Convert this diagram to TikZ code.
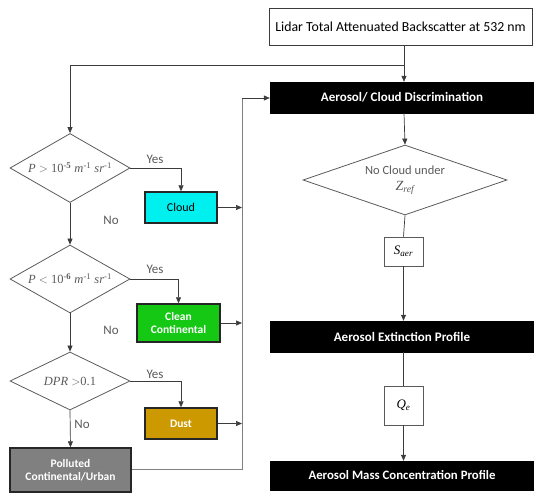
\documentclass[tikz,border=0pt]{standalone}
\usepackage{fontspec}
\setmainfont{Carlito}
\newfontfamily\tnr{Liberation Serif}
\usetikzlibrary{arrows.meta,shapes.geometric}
\definecolor{cloudc}{RGB}{0,240,240}
\definecolor{cleanc}{RGB}{20,200,20}
\definecolor{dustc}{RGB}{204,153,0}
\definecolor{pollc}{RGB}{128,128,128}
\definecolor{linec}{RGB}{60,60,60}
\definecolor{txtg}{RGB}{90,90,90}
\tikzset{
  plainbox/.style={draw=linec, line width=0.8pt, fill=white, inner sep=0pt, font=\fontsize{13.8}{15}\selectfont},
  blackbox/.style={draw=black, fill=black, text=white, inner sep=0pt, minimum width=264pt, font=\bfseries\fontsize{13}{15}\selectfont},
  catbox/.style={draw=black!85, line width=1.4pt, inner sep=0pt, align=center, text=white, font=\bfseries\fontsize{11.5}{13.5}\selectfont},
  decide/.style={diamond, draw=txtg, line width=0.8pt, inner sep=0pt, aspect=2, text=txtg, font=\fontsize{12.5}{14}\selectfont},
  smallbox/.style={draw=txtg, line width=0.8pt, inner sep=0pt, minimum width=39pt, font=\fontsize{13}{15}\selectfont},
  arr/.style={draw=linec, line width=0.7pt, -{Triangle[length=6pt,width=5pt]}},
  ln/.style={draw=linec, line width=0.7pt},
  bus/.style={draw=gray, line width=0.8pt},
  lab/.style={text=txtg, font=\fontsize{13}{15}\selectfont, inner sep=0pt},
}
\begin{document}
\begin{tikzpicture}[x=1pt,y=-1pt]
\useasboundingbox (0,0) rectangle (534,493);
% nodes
\node[plainbox, minimum width=263pt, minimum height=37pt] (top) at (400.5,26.5) {Lidar Total Attenuated Backscatter at 532 nm};
\node[blackbox, minimum height=31pt] (disc) at (402,97.5) {Aerosol/ Cloud Discrimination};
\node[decide, minimum width=204pt, minimum height=59pt] (nocl) at (405,180) {\begin{tabular}{@{}c@{}}No Cloud under\\[2pt] {\tnr\itshape\fontsize{14}{15}\selectfont Z\textsubscript{ref}}\end{tabular}};
\node[smallbox, minimum height=29pt] (saer) at (403.5,251.5) {\tnr\itshape S\textsubscript{aer}};
\node[blackbox, minimum height=31pt] (ext) at (402,336.5) {Aerosol Extinction Profile};
\node[smallbox, minimum height=39pt] (qe) at (403.5,405.5) {\tnr\itshape Q\textsubscript{e}};
\node[blackbox, minimum height=29pt, font=\bfseries\fontsize{12.8}{15}\selectfont] (mass) at (402,475.5) {Aerosol Mass Concentration Profile};

\node[decide, minimum width=120pt, minimum height=69pt] (d1) at (70,168) {\tnr\itshape P {\upshape$>$} {\upshape10\textsuperscript{-\textbf{5}}} m{\upshape\textsuperscript{-1}} sr{\upshape\textsuperscript{-1}}};
\node[decide, minimum width=120pt, minimum height=68pt] (d2) at (70,279) {\tnr\itshape P {\upshape$<$} {\upshape10\textsuperscript{-\textbf{6}}} m{\upshape\textsuperscript{-1}} sr{\upshape\textsuperscript{-1}}};
\node[decide, minimum width=120pt, minimum height=58pt] (d3) at (70,381) {\tnr\itshape DPR {\upshape$>$0.1}};

\node[catbox, fill=cloudc, text=black, font=\fontsize{12}{13.5}\selectfont, minimum width=72pt, minimum height=31pt] (cloud) at (181,207.5) {Cloud};
\node[catbox, fill=cleanc, minimum width=83pt, minimum height=38pt] (clean) at (178.5,323) {Clean\\Continental};
\node[catbox, fill=dustc, minimum width=72pt, minimum height=31pt] (dust) at (181,423.5) {Dust};
\node[catbox, fill=pollc, minimum width=121pt, minimum height=44pt] (poll) at (70.5,470) {Polluted\\Continental/Urban};

\coordinate (colx) at (404,0);
\coordinate (split) at (404,65);
\coordinate (busx) at (242,0);
\coordinate (bustop) at (242,98);
\coordinate (busbot) at (242,469);

% labels
\node[lab] (y1) at (155,159) {Yes};
\node[lab] (n1) at (111,220) {No};
\node[lab] (y2) at (155,269) {Yes};
\node[lab] (n2) at (111,330) {No};
\node[lab] (y3) at (155,374) {Yes};
\node[lab] (n3) at (82,424) {No};

% right column
\draw[arr] (top.south -| colx) -- (disc.north -| colx);
\draw[arr] (split) -| (d1.north);
\draw[arr] (disc.south -| colx) -- (nocl.north);
\draw[ln] (nocl.south) -- (saer.north);
\draw[arr] (saer.south) -- (ext.north -| saer.south);
\draw[ln] (ext.south -| qe.north) -- (qe.north);
\draw[arr] (qe.south) -- (mass.north -| qe.south);

% left column
\draw[arr] (d1.south) -- (d2.north);
\draw[arr] (d2.south) -- (d3.north);
\draw[arr] (d3.south) -- (poll.north);
\draw[arr] (d1.east) -| (cloud.north);
\draw[arr] (d2.east) -| (clean.north);
\draw[arr] (d3.east) -| (dust.north);

% bus
\draw[arr] (cloud.east) -- (cloud.east -| busx);
\draw[arr] (clean.east) -- (clean.east -| busx);
\draw[arr] (dust.east) -- (dust.east -| busx);
\draw[bus] (poll.east |- busbot) -- (busbot) -- (bustop);
\draw[arr] (bustop) -- (disc.west |- bustop);
\end{tikzpicture}
\end{document}
